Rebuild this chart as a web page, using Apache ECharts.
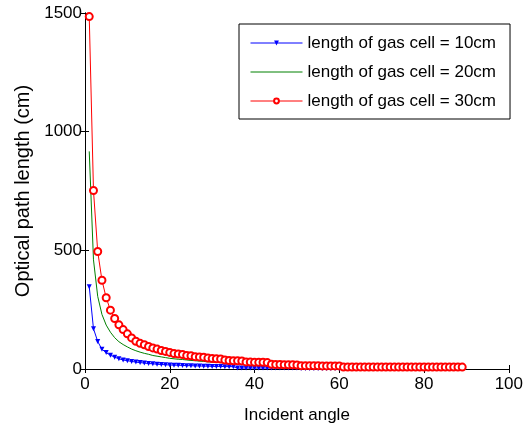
<!DOCTYPE html>
<html><head><meta charset="utf-8">
<script src="https://cdn.jsdelivr.net/npm/echarts@6/dist/echarts.min.js"></script>
<style>html,body{margin:0;padding:0;background:#fff}#c{width:526px;height:429px}</style>
</head><body><div id="c"></div>
<script>
const angles = [1,2,3,4,5,6,7,8,9,10,11,12,13,14,15,16,17,18,19,20,21,22,23,24,25,26,27,28,29,30,31,32,33,34,35,36,37,38,39,40,41,42,43,44,45,46,47,48,49,50,51,52,53,54,55,56,57,58,59,60,61,62,63,64,65,66,67,68,69,70,71,72,73,74,75,76,77,78,79,80,81,82,83,84,85,86,87,88,89];
const cell10 = [347,170,116,83,69,58,50,43,38,35,32,29,27,25,23,22,20,19,18,17,16,16,15,14,14,13,13,12,12,11,11,11,10,10,10,4,4,4,4,4,4,4,4,4,4,4,4,4,4,4,2,2,2,2,2,2,2,2,2,2,2,2,2,2,2,2,2,2,2,2,2,2,2,2,2,2,2,2,2,2,2,2,2,2,2,2,2,2,2];
const cell20 = [917,460,306,230,185,155,132,115,103,93,84,77,71,66,62,57,54,51,48,45,43,41,40,38,36,35,33,32,30,29,28,27,26,25,24,23,22,21,20,20,19,19,18,14,14,13,13,13,13,12,10,10,10,10,10,10,10,10,10,10,6,6,6,6,6,6,6,6,6,6,6,6,6,6,6,6,6,6,6,6,6,6,6,6,6,6,6,6,6];
const cell30 = [1485,752,495,374,300,248,213,186,166,148,131,117,108,102,95,89,84,78,74,70,65,63,61,57,56,52,51,50,46,44,43,42,38,36,35,35,34,30,29,28,28,28,27,20,19,19,18,18,18,17,14,14,14,14,14,13,13,13,13,13,8,8,8,8,8,8,8,8,8,8,8,8,8,8,8,8,8,8,8,8,8,8,8,8,8,8,8,8,8];
const seriesNames = ['length of gas cell = 10cm','length of gas cell = 20cm','length of gas cell = 30cm'];
const xTicks = [0,20,40,60,80,100];
const yTicks = [0,500,1000,1500];

const FONT = "'Liberation Sans',Arial,sans-serif";
const pair = (ys) => angles.map((a, i) => [a, ys[i]]);
const chart = echarts.init(document.getElementById('c'), null, {renderer: 'canvas'});
const axisLine = {show: true, lineStyle: {color: '#000', width: 1}};
const tick = {show: true, inside: true, length: 4, lineStyle: {color: '#000'}};
chart.setOption({
  animation: false,
  backgroundColor: '#fff',
  grid: {left: 85, top: 13, width: 426, height: 357, containLabel: false},
  legend: {
    orient: 'vertical', left: 239, top: 24,
    data: [
      {name: seriesNames[0]},
      {name: seriesNames[1], itemStyle: {opacity: 0}},
      {name: seriesNames[2]}
    ],
    backgroundColor: '#fff', borderColor: '#000', borderWidth: 1,
    padding: [9, 14, 8, 11], itemGap: 9, itemWidth: 52, itemHeight: 6,
    lineStyle: {width: 1},
    textStyle: {fontFamily: FONT, fontSize: 17, color: '#000', lineHeight: 20}
  },
  xAxis: [{
    type: 'value', min: 0, max: 100, interval: 20, position: 'bottom',
    axisLine: axisLine, splitLine: {show: false}, axisTick: tick,
    axisLabel: {fontFamily: FONT, fontSize: 17, color: '#000', margin: 7,
      formatter: (v) => xTicks.includes(v) ? String(v) : ''},
    name: 'Incident angle', nameLocation: 'middle', nameGap: 38,
    nameTextStyle: {fontFamily: FONT, fontSize: 17, color: '#000'}
  }, {
    type: 'value', min: 0, max: 100, interval: 20, position: 'top',
    axisLine: axisLine, splitLine: {show: false}, axisTick: tick,
    axisLabel: {show: false}
  }],
  yAxis: [{
    type: 'value', min: 0, max: 1500, interval: 500, position: 'left',
    axisLine: axisLine, splitLine: {show: false}, axisTick: tick,
    axisLabel: {fontFamily: FONT, fontSize: 17, color: '#000', margin: 3,
      formatter: (v) => yTicks.includes(v) ? String(v) : ''},
    name: 'Optical path length (cm)', nameLocation: 'middle', nameGap: 47,
    nameTextStyle: {fontFamily: FONT, fontSize: 20, color: '#000'}
  }, {
    type: 'value', min: 0, max: 1500, interval: 500, position: 'right',
    axisLine: axisLine, splitLine: {show: false}, axisTick: tick,
    axisLabel: {show: false}
  }],
  series: [{
    name: seriesNames[0], type: 'line', data: pair(cell10),
    symbol: 'triangle', symbolRotate: 180, symbolSize: 5, showSymbol: true,
    lineStyle: {color: '#0000ff', width: 1}, itemStyle: {color: '#0000ff'}, z: 2
  }, {
    name: seriesNames[1], type: 'line', data: pair(cell20),
    symbol: 'none', showSymbol: false,
    lineStyle: {color: '#008000', width: 1}, itemStyle: {color: '#008000'}, z: 3
  }, {
    name: seriesNames[2], type: 'line', data: pair(cell30),
    symbol: 'emptyCircle', symbolSize: 7, showSymbol: true,
    lineStyle: {color: '#ff0000', width: 1},
    itemStyle: {color: '#ff0000', borderColor: '#ff0000', borderWidth: 1}, z: 4
  }]
});
</script></body></html>
